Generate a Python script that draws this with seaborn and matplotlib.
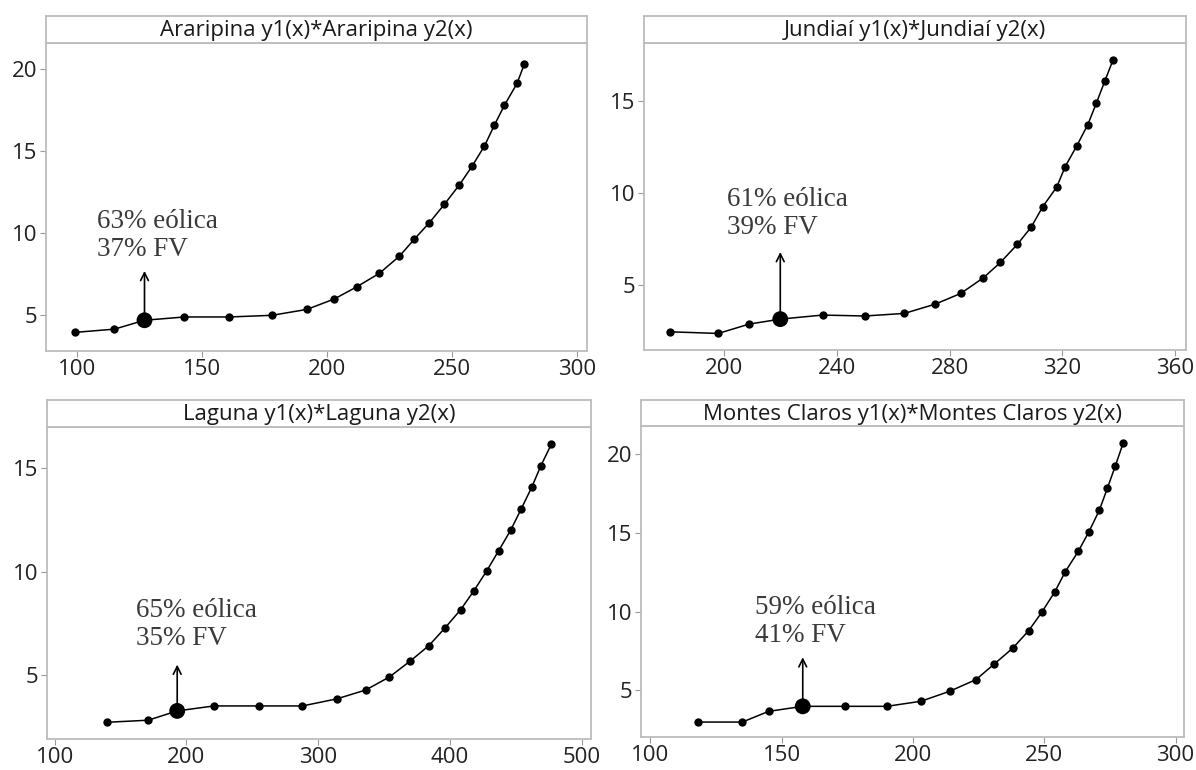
import matplotlib
matplotlib.use("Agg")
import matplotlib.pyplot as plt
import seaborn as sns
import pandas as pd

# ---- data ----
titles = [
    "Araripina y1(x)*Araripina y2(x)",
    "Jundiaí y1(x)*Jundiaí y2(x)",
    "Laguna y1(x)*Laguna y2(x)",
    "Montes Claros y1(x)*Montes Claros y2(x)",
]

araripina_x = [99, 115, 127, 143, 161, 178, 192, 203, 212, 221, 229, 235, 241,
               247, 253, 258, 263, 267, 271, 276, 279]
araripina_y = [3.96, 4.16, 4.7, 4.9, 4.9, 5.0, 5.36, 6.0, 6.74, 7.56, 8.6, 9.64,
               10.64, 11.76, 12.94, 14.06, 15.3, 16.58, 17.78, 19.1, 20.3]

jundiai_x = [181, 198, 209, 220, 235, 250, 264, 275, 284, 292, 298, 304, 309,
             313, 318, 321, 325, 329, 332, 335, 338]
jundiai_y = [2.46, 2.37, 2.88, 3.15, 3.37, 3.32, 3.46, 3.97, 4.55, 5.4, 6.23,
             7.21, 8.17, 9.26, 10.34, 11.45, 12.55, 13.73, 14.89, 16.09, 17.27]

laguna_x = [140, 171, 193, 221, 255, 288, 314, 336, 354, 370, 384, 396, 408,
            418, 428, 437, 446, 454, 462, 469, 477]
laguna_y = [2.71, 2.81, 3.26, 3.5, 3.5, 3.5, 3.84, 4.27, 4.9, 5.68, 6.42, 7.26,
            8.15, 9.06, 10.05, 11.02, 12.0, 13.03, 14.08, 15.13, 16.18]

montes_x = [118, 135, 145, 158, 174, 190, 203, 214, 224, 231, 238, 244, 249,
            254, 258, 263, 267, 271, 274, 277, 280]
montes_y = [2.98, 2.98, 3.66, 3.98, 3.98, 3.98, 4.3, 4.94, 5.68, 6.68, 7.68,
            8.78, 9.95, 11.26, 12.54, 13.85, 15.08, 16.46, 17.84, 19.24, 20.7]

# index of the highlighted optimum in each series
optimum_idx = [2, 3, 2, 3]
labels = [
    "63% eólica\n37% FV",
    "61% eólica\n39% FV",
    "65% eólica\n35% FV",
    "59% eólica\n41% FV",
]
x_ticks = [[100, 150, 200, 250, 300], [200, 240, 280, 320, 360],
           [100, 200, 300, 400, 500], [100, 150, 200, 250, 300]]
y_ticks = [[5, 10, 15, 20], [5, 10, 15], [5, 10, 15], [5, 10, 15, 20]]

series = [(araripina_x, araripina_y), (jundiai_x, jundiai_y),
          (laguna_x, laguna_y), (montes_x, montes_y)]

# ---- layout (pixels of a 1196x770 figure) ----
W, H = 1196, 770
# left, right, strip top, strip bottom, axes bottom
boxes = [(46, 587, 16, 43, 351), (644, 1186, 16, 43, 350),
         (47, 591, 400, 427, 739), (641, 1184, 400, 426, 737)]
xlims = [(87.6, 304), (171.7, 363.8), (94.2, 507), (96.4, 303.2)]
ylims = [(2.83, 21.56), (1.47, 18.17), (1.9, 17.0), (2.03, 21.8)]
# text anchor (data coords, left / centre of block) and arrow tip y
text_pos = [(108, 9.85), (201, 8.9), (162, 7.45), (140, 9.35)]
arrow_top = [7.7, 6.8, 5.5, 7.1]

sns.set_theme(style="white")
plt.rcParams["font.family"] = ["Open Sans", "DejaVu Sans"]

fig = plt.figure(figsize=(W / 100, H / 100), dpi=100)
spine_col = "#bcbcbc"

for i, (xs, ys) in enumerate(series):
    l, r, st, sb, b = boxes[i]
    ax = fig.add_axes([l / W, 1 - b / H, (r - l) / W, (b - sb) / H])
    strip = fig.add_axes([l / W, 1 - sb / H, (r - l) / W, (sb - st) / H])

    df = pd.DataFrame({"x": xs, "y": ys})
    sns.lineplot(data=df, x="x", y="y", ax=ax, color="black", lw=1.1,
                 marker="o", markersize=6, markeredgewidth=0, sort=False)
    k = optimum_idx[i]
    sns.scatterplot(x=[xs[k]], y=[ys[k]], ax=ax, color="black", s=130,
                    edgecolor="none", zorder=5)
    ax.annotate("", xy=(xs[k], arrow_top[i]), xytext=(xs[k], ys[k]),
                arrowprops=dict(arrowstyle="->", color="black", lw=1.2,
                                shrinkA=0, shrinkB=0, mutation_scale=14))
    ax.text(text_pos[i][0], text_pos[i][1], labels[i], ha="left", va="center",
            fontsize=19.5, color="#3a3a3a", linespacing=1.15,
            family=["Liberation Serif", "DejaVu Serif"])

    ax.set_xlim(*xlims[i])
    ax.set_ylim(*ylims[i])
    ax.set_xticks(x_ticks[i])
    ax.set_yticks(y_ticks[i])
    ax.set_xlabel("")
    ax.set_ylabel("")
    ax.tick_params(axis="both", which="both", labelsize=16, colors="#999999",
                   labelcolor="#222222", length=4, width=0.8, direction="out",
                   left=True, bottom=True, pad=2)
    for sp in ax.spines.values():
        sp.set_color(spine_col)
        sp.set_linewidth(1.3)

    strip.set_xticks([])
    strip.set_yticks([])
    for sp in strip.spines.values():
        sp.set_color(spine_col)
        sp.set_linewidth(1.3)
    strip.text(0.5, 0.45, titles[i], ha="center", va="center", fontsize=16,
               color="#1a1a1a", transform=strip.transAxes)

fig.savefig("out.png", dpi=100)
